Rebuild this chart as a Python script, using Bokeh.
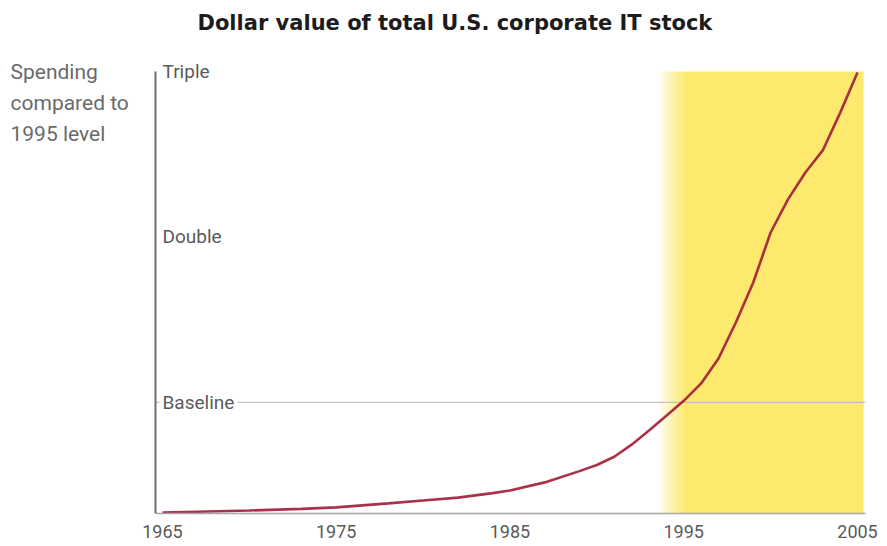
import numpy as np
from bokeh.plotting import figure
from bokeh.models import Label, Range1d, FixedTicker
from bokeh.embed import file_html
from bokeh.resources import INLINE

# ---- data ----
years = [1965, 1967, 1970, 1973, 1975, 1978, 1980, 1982, 1984, 1985, 1987, 1989,
         1990, 1991, 1992, 1993, 1994, 1995, 1996, 1997, 1998, 1999, 2000, 2001,
         2002, 2003, 2004, 2005]
it_stock = [0.335, 0.34, 0.347, 0.357, 0.366, 0.39, 0.408, 0.425, 0.452, 0.468,
            0.517, 0.585, 0.622, 0.672, 0.745, 0.83, 0.92, 1.01, 1.115, 1.266,
            1.483, 1.725, 2.027, 2.227, 2.39, 2.523, 2.75, 2.994]

x_ticks = [1965, 1975, 1985, 1995, 2005]
y_tick_values = [1, 2, 3]
y_tick_labels = ["Baseline", "Double", "Triple"]
highlight_start, highlight_end = 1993.5, 2005.35

title_text = "Dollar value of total U.S. corporate IT stock"
ylabel_text = "Spending\ncompared to\n1995 level"

# axis extents (data units)
AX_X, X1 = 1964.6, 2005.46          # y-axis position, right end
XL = AX_X - 155 / 17.375            # left edge of canvas (room for the y title)
Y0, TOP = 0.329, 3.0
YT = 1 + 402 / 165.5                # top edge of canvas

COND = "Roboto"

p = figure(width=887, height=546, output_backend="svg", toolbar_location=None,
           x_range=Range1d(XL, X1), y_range=Range1d(Y0, YT),
           min_border_left=0, min_border_right=22, min_border_top=0,
           min_border_bottom=33)
p.outline_line_color = None
p.background_fill_color = "white"
p.border_fill_color = "white"
p.xgrid.visible = False
p.ygrid.visible = False

# yellow highlight with a soft left edge
yellow = "#fde96e"
fade = 1.5
n = 16
edges = np.linspace(highlight_start, highlight_start + fade, n + 1)
alphas = np.linspace(0.05, 1.0, n)
p.quad(left=edges[:-1], right=edges[1:], bottom=Y0, top=TOP,
       fill_color=yellow, fill_alpha=alphas, line_color=None)
p.quad(left=[highlight_start + fade], right=[highlight_end], bottom=Y0, top=TOP,
       fill_color=yellow, line_color=None)

# baseline rule, starting at the y axis
p.ray(x=[AX_X], y=[y_tick_values[0]], length=0, angle=0,
      line_color="#b5b5b5", line_alpha=0.8, line_width=1.3)

# the series
p.line(years, it_stock, line_color="#a3203a", line_width=2.6, line_alpha=0.92)

# x axis
p.xaxis.ticker = FixedTicker(ticks=x_ticks)
p.xaxis.bounds = (AX_X, X1)
p.xaxis.major_tick_line_color = None
p.xaxis.minor_tick_line_color = None
p.xaxis.axis_line_color = "#a8a8a8"
p.xaxis.axis_line_width = 1.5
p.xaxis.major_label_standoff = 5
p.xaxis.major_label_text_font = COND
p.xaxis.major_label_text_font_size = "18px"
p.xaxis.major_label_text_color = "#5a5a5a"

# y axis pinned inside the frame
p.yaxis.fixed_location = AX_X
p.yaxis.ticker = FixedTicker(ticks=[])
p.yaxis.bounds = (Y0, TOP)
p.yaxis.major_tick_line_color = None
p.yaxis.minor_tick_line_color = None
p.yaxis.major_tick_in = 0
p.yaxis.major_tick_out = 0
p.yaxis.minor_tick_out = 0
p.yaxis.axis_line_color = "#6e6e6e"
p.yaxis.axis_line_width = 2

# y tick labels to the right of the axis
for v, lab in zip(y_tick_values, y_tick_labels):
    p.add_layout(Label(x=AX_X, y=v, text=lab, x_offset=4, text_align="left",
                       text_baseline="middle", text_font=COND,
                       text_font_size="19px", text_color="#5a5a5a",
                       background_fill_color="white" if v == 1 else None,
                       padding=3))

# axis title, top-left
p.add_layout(Label(x=XL, y=YT, x_offset=10, y_offset=-59, text=ylabel_text,
                   text_align="left", text_baseline="top", text_font=COND,
                   text_font_size="21px", text_color="#6a6a6a",
                   text_line_height=1.3))

# chart title
p.add_layout(Label(x=AX_X, y=YT, x_offset=42, y_offset=-22, text=title_text,
                   text_align="left", text_baseline="middle",
                   text_font="DejaVu Sans", text_font_style="bold",
                   text_font_size="21px", text_color="#1c1c1c"))

open("out.html", "w").write(file_html(p, INLINE))
